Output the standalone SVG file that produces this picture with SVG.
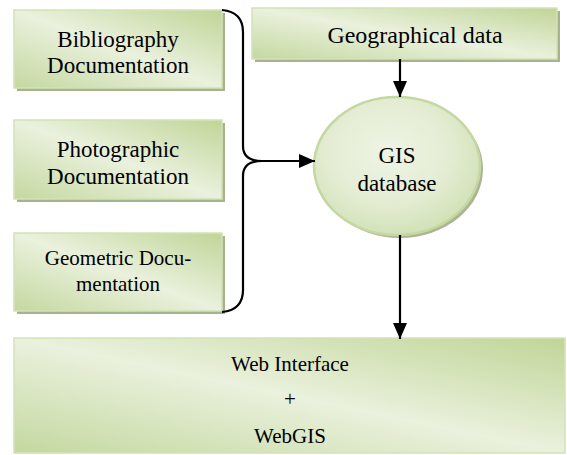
<svg xmlns="http://www.w3.org/2000/svg" width="567" height="455" viewBox="0 0 567 455">
<style>
.box{fill:url(#g);stroke:#d3e2b6;stroke-width:1.5}
.sh{fill:#a7b38e}
.c{fill:none;stroke:#000;stroke-width:2.2}
</style>
<defs>
<linearGradient id="g" x1="1" y1="0" x2="0" y2="1">
<stop offset="0" stop-color="#c0d597"/>
<stop offset="0.5" stop-color="#eaf1dd"/>
<stop offset="1" stop-color="#c4d8a0"/>
</linearGradient>
<radialGradient id="rg" cx="0.45" cy="0.4" r="0.6">
<stop offset="0" stop-color="#eef4e4"/>
<stop offset="0.6" stop-color="#e4edd4"/>
<stop offset="1" stop-color="#d2e2b8"/>
</radialGradient>
<marker id="a" markerWidth="16" markerHeight="14" refX="16" refY="7" orient="auto" markerUnits="userSpaceOnUse">
<path d="M0,0 L16,7 L0,14 Z" fill="#000"/>
</marker>
</defs>
<g id="bib">
<rect class="sh" x="17" y="13" width="208" height="78"/>
<rect class="box" x="14" y="10" width="208" height="78"/>
<text x="118" y="47" font-family="'Liberation Serif'" font-size="23" text-anchor="middle">Bibliography</text>
<text x="118" y="73" font-family="'Liberation Serif'" font-size="23" text-anchor="middle">Documentation</text>
</g>
<g id="photo">
<rect class="sh" x="17" y="123" width="208" height="79"/>
<rect class="box" x="14" y="120" width="208" height="79"/>
<text x="118" y="157" font-family="'Liberation Serif'" font-size="23" text-anchor="middle">Photographic</text>
<text x="118" y="184" font-family="'Liberation Serif'" font-size="23" text-anchor="middle">Documentation</text>
</g>
<g id="geom">
<rect class="sh" x="17" y="236" width="208" height="78"/>
<rect class="box" x="14" y="233" width="208" height="78"/>
<text x="118" y="265" font-family="'Liberation Serif'" font-size="21" text-anchor="middle">Geometric Docu-</text>
<text x="118" y="291" font-family="'Liberation Serif'" font-size="21" text-anchor="middle">mentation</text>
</g>
<g id="geo">
<rect class="sh" x="255" y="11" width="305" height="51"/>
<rect class="box" x="252" y="8" width="305" height="51"/>
<text x="415" y="43" font-family="'Liberation Serif'" font-size="24" text-anchor="middle">Geographical data</text>
</g>
<g id="gis">
<ellipse cx="400" cy="169" rx="83" ry="69" fill="#aab593"/>
<ellipse cx="397" cy="166" rx="83" ry="69" fill="url(#rg)" stroke="#c5d8a1" stroke-width="2.5"/>
<text x="397" y="163" font-family="'Liberation Serif'" font-size="23" text-anchor="middle">GIS</text>
<text x="397" y="191" font-family="'Liberation Serif'" font-size="23" text-anchor="middle">database</text>
</g>
<g id="web">
<rect class="box" x="14" y="338" width="551" height="115"/>
<text x="290" y="371" font-family="'Liberation Serif'" font-size="21" text-anchor="middle">Web Interface</text>
<text x="290" y="406" font-family="'Liberation Serif'" font-size="21" text-anchor="middle">+</text>
<text x="290" y="443" font-family="'Liberation Serif'" font-size="21" text-anchor="middle">WebGIS</text>
</g>
<g id="connectors">
<path class="c" d="M222,10 Q243,12 243,32 L243,146 Q243,161 262,161 Q243,161 243,176 L243,290 Q243,310 222,312"/>
<path class="c" d="M262,161 L315,161" marker-end="url(#a)"/>
<path class="c" d="M400,59 L400,97" marker-end="url(#a)"/>
<path class="c" d="M400,235 L400,339" marker-end="url(#a)"/>
</g>
</svg>
